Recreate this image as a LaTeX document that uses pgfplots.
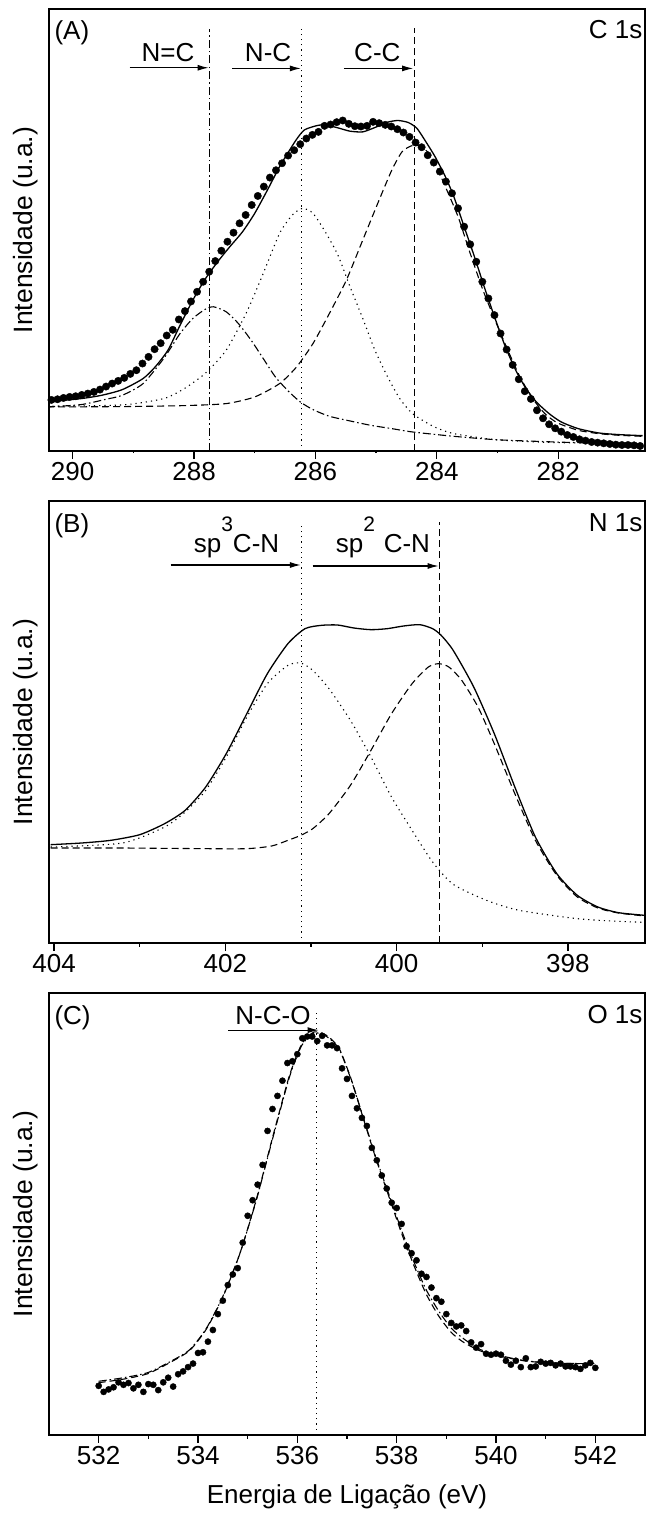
\documentclass[border=0pt]{standalone}
\usepackage{fontspec}
\setmainfont{Liberation Sans}
\usepackage{pgfplots}
\pgfplotsset{compat=1.18}
\usetikzlibrary{arrows.meta}
\newcommand{\fs}{\fontsize{26}{30}\selectfont}
\newcommand{\fsy}{\fontsize{26.5}{30}\selectfont}
\newcommand{\fss}{\fontsize{21}{23}\selectfont}

\pgfplotsset{
  panel/.style={
    scale only axis, width=596pt, height=442pt,
    axis line style={line width=1.5pt},
    ytick=\empty,
    xtick pos=left, tick align=outside,
    major tick length=8pt, minor tick length=3.5pt,
    minor x tick num=1,
    every tick/.style={black, line width=1.3pt},
    tick label style={font=\fs},
    /pgf/number format/assume math mode=true,
    ylabel={Intensidade (u.a.)},
    ylabel style={font=\fsy, at={(rel axis cs:-0.040,0.5)}, anchor=center},
  },
  fit/.style={black, line width=1.3pt, smooth, tension=0.4, no marks, line join=round},
  dashc/.style={black, line width=1.1pt, dash pattern=on 7pt off 4pt, smooth, tension=0.4, no marks},
  dotc/.style={black, line width=1.1pt, dash pattern=on 1.2pt off 4pt, smooth, tension=0.4, no marks},
  ddotc/.style={black, line width=1.1pt, dash pattern=on 8pt off 3pt on 1.5pt off 3pt, smooth, tension=0.4, no marks},
  arr/.style={black, line width=1.1pt, no marks, -{Latex[length=11pt,width=6pt]}},
  pts/.style={only marks, mark=*, mark options={fill=black, draw=black}},
}

\begin{document}
\begin{tikzpicture}
\useasboundingbox (-49pt,9pt) rectangle (598pt,-1506pt);

% ---------------- Panel A ----------------
\begin{axis}[panel, at={(0pt,0pt)}, anchor=north west,
  x dir=reverse, xmin=280.57, xmax=290.39, ymin=0, ymax=1324,
  xtick={282,284,286,288,290}, minor tick length=2pt]
\addplot[pts, mark size=3.7pt] table {
290.35 153
290.25 155
290.15 159
290.05 162
289.95 164
289.85 168
289.75 172
289.65 177
289.55 184
289.45 193
289.35 202
289.25 210
289.15 219
289.05 231
288.95 242
288.85 262
288.75 282
288.65 305
288.55 323
288.45 346
288.35 363
288.25 394
288.15 419
288.05 448
287.95 477
287.85 507
287.75 537
287.65 569
287.55 600
287.45 627
287.35 654
287.25 682
287.15 707
287.05 737
286.95 764
286.85 792
286.75 819
286.65 841
286.55 862
286.45 885
286.35 901
286.25 919
286.15 936
286.05 947
285.95 956
285.85 974
285.75 978
285.65 985
285.55 990
285.45 980
285.35 973
285.25 972
285.15 974
285.05 986
284.95 982
284.85 977
284.75 972
284.65 964
284.55 954
284.45 941
284.35 924
284.25 910
284.15 886
284.05 864
283.95 837
283.85 807
283.75 772
283.65 727
283.55 672
283.45 619
283.35 567
283.25 507
283.15 457
283.05 407
282.95 352
282.85 304
282.75 258
282.65 215
282.55 179
282.45 156
282.35 122
282.25 98
282.15 80
282.05 68
281.95 58
281.85 48
281.75 42
281.65 35
281.55 31
281.45 27
281.35 25
281.25 23
281.15 21
281.05 19
280.95 18
280.85 18
280.75 17
280.65 15
};
% total fit
\addplot[fit] table {
290.42 147
289.86 157
289.52 167
289.18 184
288.84 217
288.64 252
288.43 302
288.23 377
288.02 452
287.82 514
287.61 567
287.41 612
287.20 657
287.00 712
286.79 782
286.59 852
286.45 894
286.31 934
286.18 962
285.97 975
285.84 977
285.63 968
285.43 958
285.22 956
285.02 969
284.81 985
284.64 990
284.47 984
284.33 967
284.20 932
284.03 882
283.86 822
283.72 762
283.55 672
283.38 582
283.21 487
283.04 397
282.87 312
282.70 242
282.53 187
282.36 147
282.15 112
281.95 87
281.67 67
281.33 54
280.99 49
280.61 46
};
% N=C component (dash-dot)
\addplot[ddotc] table {
290.42 132
289.86 139
289.45 155
289.18 167
288.84 202
288.50 277
288.23 352
288.02 397
287.82 424
287.68 432
287.47 417
287.27 382
287.06 332
286.86 277
286.66 222
286.45 180
286.25 147
286.04 124
285.77 104
285.43 90
285.09 77
284.74 67
284.40 57
283.72 44
283.04 34
282.36 29
281.67 25
280.61 22
};
% N-C component (dotted)
\addplot[dotc] table {
290.42 134
289.18 138
288.50 157
288.16 187
287.82 232
287.47 302
287.13 417
286.86 532
286.59 652
286.38 707
286.21 727
286.04 712
285.84 657
285.63 587
285.43 492
285.22 397
285.02 302
284.81 222
284.61 157
284.40 112
284.06 74
283.72 52
283.04 34
282.36 27
281.67 24
280.61 21
};
% C-C component (dashed)
\addplot[dashc] table {
290.42 132
289.18 133
288.16 136
287.47 142
287.00 162
286.59 202
286.31 252
286.04 322
285.77 412
285.49 512
285.22 632
284.95 752
284.74 842
284.57 897
284.40 915
284.23 910
284.06 872
283.86 792
283.65 702
283.45 592
283.24 482
283.04 392
282.83 302
282.63 222
282.42 157
282.22 112
282.01 84
281.67 62
281.33 52
280.99 47
280.61 44
};
% reference lines
\addplot[black, line width=1.1pt, dash pattern=on 8pt off 3pt on 1.5pt off 3pt, no marks] coordinates {(287.75,0) (287.75,1265)};
\addplot[black, line width=1.1pt, dash pattern=on 1.2pt off 4pt, no marks] coordinates {(286.23,0) (286.23,1270)};
\addplot[black, line width=1.1pt, dash pattern=on 7pt off 4pt, no marks] coordinates {(284.37,0) (284.37,1268)};
% arrows
\addplot[arr] coordinates {(289.06,1148) (287.76,1148)};
\addplot[arr] coordinates {(287.37,1146) (286.24,1146)};
\addplot[arr] coordinates {(285.53,1146) (284.39,1146)};
\node[font=\fs, anchor=base] at (axis cs:288.43,1167) {N=C};
\node[font=\fs, anchor=base] at (axis cs:286.78,1167) {N-C};
\node[font=\fs, anchor=base] at (axis cs:284.98,1167) {C-C};
\node[font=\fs, anchor=north west, inner sep=0pt] at (rel axis cs:0.009,0.975) {(A)};
\node[font=\fs, anchor=north east, inner sep=0pt] at (rel axis cs:0.996,0.975) {C 1s};
\end{axis}

% ---------------- Panel B ----------------
\begin{axis}[panel, at={(0pt,-492pt)}, anchor=north west,
  x dir=reverse, xmin=397.10, xmax=404.06, ymin=0, ymax=1326,
  xtick={398,400,402,404}]
\addplot[fit] table {
404.04 295
403.68 300
403.34 308
403.00 325
402.71 358
402.47 398
402.23 468
401.99 568
401.75 688
401.51 808
401.27 898
401.07 943
400.88 953
400.69 954
400.50 945
400.30 940
400.11 943
399.92 951
399.73 955
399.58 943
399.48 923
399.34 878
399.10 768
398.86 628
398.62 468
398.38 318
398.13 208
397.89 143
397.65 108
397.41 91
397.10 83
};
\addplot[dotc] table {
404.04 288
403.20 300
402.71 348
402.47 393
402.23 458
401.99 558
401.75 678
401.51 778
401.27 833
401.12 840
400.98 818
400.79 763
400.54 668
400.30 558
400.06 438
399.82 338
399.58 243
399.34 176
398.95 128
398.57 98
397.89 73
397.41 65
397.10 62
};
\addplot[dashc] table {
404.04 285
403.20 285
402.23 283
401.75 283
401.46 291
401.27 308
401.12 323
400.98 343
400.79 388
400.54 473
400.30 578
400.06 688
399.82 778
399.63 828
399.51 838
399.39 828
399.24 788
399.05 708
398.86 598
398.62 448
398.38 308
398.13 203
397.89 138
397.65 105
397.41 90
397.10 81
};
\addplot[black, line width=1.1pt, dash pattern=on 1.2pt off 4pt, no marks] coordinates {(401.11,0) (401.11,1253)};
\addplot[black, line width=1.1pt, dash pattern=on 7pt off 4pt, no marks] coordinates {(399.50,0) (399.50,1263)};
\addplot[arr] coordinates {(402.64,1134) (401.12,1134)};
\addplot[arr] coordinates {(400.98,1131) (399.51,1131)};
\node[font=\fs, anchor=base] at (axis cs:401.87,1173) {sp\raisebox{0.8em}{\fss 3}C-N};
\node[font=\fs, anchor=base] at (axis cs:400.16,1173) {sp\raisebox{0.8em}{\fss 2}\,\,C-N};
\node[font=\fs, anchor=north west, inner sep=0pt] at (rel axis cs:0.009,0.972) {(B)};
\node[font=\fs, anchor=north east, inner sep=0pt] at (rel axis cs:0.996,0.972) {N 1s};
\end{axis}

% ---------------- Panel C ----------------
\begin{axis}[panel, at={(0pt,-984pt)}, anchor=north west,
  xmin=531, xmax=543, ymin=0, ymax=1250,
  xtick={532,534,536,538,540,542},
  xlabel={Energia de Ligação (eV)},
  xlabel style={font=\fs, at={(rel axis cs:0.5,-0.14)}, anchor=center}]
\addplot[pts, mark size=3.1pt] table {
532.0 139
532.1 122
532.2 129
532.3 135
532.4 149
532.5 142
532.6 147
532.7 132
532.8 142
532.9 122
533.0 144
533.1 142
533.2 127
533.3 149
533.4 162
533.5 137
533.6 172
533.7 180
533.8 192
533.9 202
534.0 232
534.1 234
534.2 264
534.3 297
534.4 342
534.5 380
534.6 424
534.7 454
534.8 472
534.9 544
535.0 620
535.1 664
535.2 708
535.3 764
535.4 860
535.5 922
535.6 959
535.7 1002
535.8 1052
535.9 1057
536.0 1077
536.1 1122
536.2 1127
536.3 1127
536.4 1114
536.5 1129
536.6 1102
536.7 1102
536.8 1094
536.9 1037
537.0 1007
537.1 959
537.2 924
537.3 897
537.4 874
537.5 812
537.6 777
537.7 734
537.8 697
537.9 657
538.0 642
538.1 597
538.2 534
538.3 514
538.4 494
538.5 456
538.6 447
538.7 417
538.8 387
538.9 377
539.0 342
539.1 317
539.2 307
539.3 310
539.4 294
539.5 262
539.6 247
539.7 257
539.8 230
539.9 227
540.0 230
540.1 227
540.2 210
540.3 199
540.4 210
540.5 192
540.6 217
540.7 192
540.8 194
540.9 207
541.0 202
541.1 204
541.2 197
541.3 202
541.4 194
541.5 194
541.6 192
541.7 187
541.8 197
541.9 204
542.0 190
};
\addplot[ddotc] table {
532.00 152
532.50 162
533.00 177
533.50 212
533.84 242
534.17 302
534.50 392
534.84 512
535.17 662
535.51 842
535.84 1012
536.09 1102
536.34 1137
536.59 1127
536.84 1092
537.09 1002
537.34 892
537.59 782
537.84 682
538.09 582
538.34 492
538.59 412
538.84 352
539.10 302
539.35 272
539.68 242
540.01 227
540.51 212
541.02 204
541.68 202
542.02 202
};
\addplot[dashc] table {
532.00 148
532.50 158
533.00 174
533.50 210
533.84 240
534.17 300
534.50 390
534.84 512
535.17 664
535.51 846
535.84 1016
536.09 1106
536.34 1140
536.59 1130
536.84 1094
537.09 1004
537.34 890
537.59 778
537.84 676
538.09 574
538.34 482
538.59 400
538.84 338
539.10 290
539.35 262
539.68 238
540.01 225
540.51 211
541.02 204
541.68 202
542.02 202
};
\addplot[black, line width=1.1pt, dash pattern=on 1.2pt off 4pt, no marks] coordinates {(536.38,0) (536.38,1202)};
\addplot[arr] coordinates {(534.61,1145) (536.43,1145)};
\node[font=\fs, anchor=base] at (axis cs:535.51,1160) {N-C-O};
\node[font=\fs, anchor=north west, inner sep=0pt] at (rel axis cs:0.009,0.972) {(C)};
\node[font=\fs, anchor=north east, inner sep=0pt] at (rel axis cs:0.996,0.972) {O 1s};
\end{axis}
\end{tikzpicture}
\end{document}
